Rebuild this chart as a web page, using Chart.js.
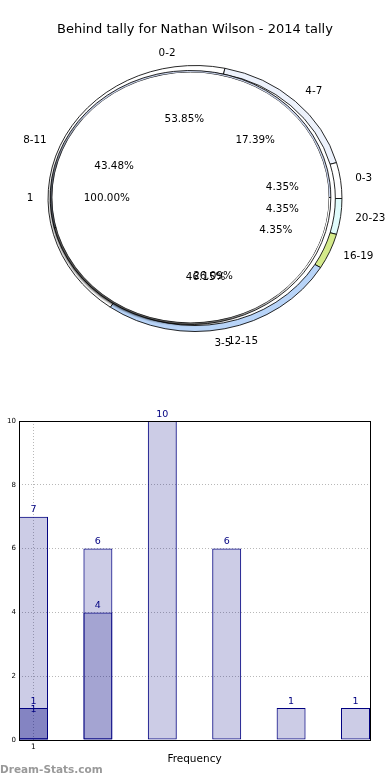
<!DOCTYPE html>
<html>
<head>
<meta charset="utf-8">
<script src="https://cdn.jsdelivr.net/npm/chart.js@4.4.0/dist/chart.umd.min.js"></script>
<style>
  html, body { margin: 0; padding: 0; background: #fff; }
  body { width: 390px; height: 780px; position: relative; overflow: hidden; font-family: "DejaVu Sans", sans-serif; }
  #pieBox { position: absolute; left: 0; top: 0; width: 390px; height: 375px; }
  #barBox { position: absolute; left: 0; top: 390px; width: 390px; height: 390px; }
  #mark { position: absolute; left: 0; top: 763px; font: bold 10.5px "DejaVu Sans", sans-serif; color: #999; }
</style>
</head>
<body>
<div id="pieBox"><canvas id="pieChart"></canvas></div>
<div id="barBox"><canvas id="barChart"></canvas></div>
<div id="mark">Dream-Stats.com</div>
<script>
const hourLabels = ['0-3', '4-7', '8-11', '12-15', '16-19', '20-23'];
const hourValues = [1, 4, 10, 6, 1, 1];
const hourColors = ['#ffffff', '#edf2fc', '#ffffff', '#b8d4f8', '#d4ea8a', '#e0fcfc'];
const halfLabels = ['0-2', '3-5'];
const halfValues = [7, 6];
const halfColors = ['#c9d3ea', '#ffffff'];
const gameLabels = ['1'];
const gameValues = [1];

const barX = [1, 2, 3, 4, 5, 6];
const xTickLabels = ['1'];
const yTicks = [0, 2, 4, 6, 8, 10];

const FONT = '"DejaVu Sans", sans-serif';
const SX = 1.105;   // pie comes out a bit wider than tall
const R = 133;

function rev(a) { return a.slice().reverse(); }

// matplotlib goes counterclockwise from east, Chart.js clockwise -> reverse order
const pieSets = [
  { data: rev(hourValues), names: rev(hourLabels), backgroundColor: rev(hourColors), weight: 6, order: 3, borderWidth: 0.8 },
  { data: rev(halfValues), names: rev(halfLabels), backgroundColor: rev(halfColors), weight: 2, order: 2, borderWidth: 0.8 },
  { data: gameValues, names: gameLabels, backgroundColor: ['#ffffff'], weight: 125, order: 1, borderWidth: 0 }
].map(d => Object.assign(d, { borderColor: '#000', hoverOffset: 0 }));

const pieShape = {
  id: 'pieShape',
  beforeDatasetsDraw(chart) {
    const a = chart.chartArea, ctx = chart.ctx;
    const cx = (a.left + a.right) / 2, cy = (a.top + a.bottom) / 2;
    ctx.save();
    ctx.translate(cx, cy);
    ctx.scale(SX, 1);
    ctx.translate(-cx, -cy);
  },
  afterDatasetsDraw(chart) { chart.ctx.restore(); },
  beforeDatasetDraw(chart, args) {
    if (args.index === 0) return;
    const ctx = chart.ctx;
    ctx.save();
    ctx.translate(-4.5 / SX, -1);
    if (args.index === 2) {
      ctx.shadowColor = 'rgba(0,0,0,0.7)';
      ctx.shadowOffsetX = -2.5;
      ctx.shadowOffsetY = 2.5;
      ctx.shadowBlur = 2;
    }
  },
  afterDatasetDraw(chart, args) { if (args.index !== 0) chart.ctx.restore(); },
  afterDraw(chart) {
    const a = chart.chartArea, ctx = chart.ctx;
    const cx = (a.left + a.right) / 2, cy = (a.top + a.bottom) / 2;
    ctx.save();
    ctx.font = '10.4px ' + FONT;
    ctx.fillStyle = '#000';
    ctx.textBaseline = 'middle';
    chart.data.datasets.forEach((ds, di) => {
      const total = ds.data.reduce((s, v) => s + v, 0);
      chart.getDatasetMeta(di).data.forEach((arc, i) => {
        const mid = (arc.startAngle + arc.endAngle) / 2;
        const c = Math.cos(mid), s = Math.sin(mid);
        ctx.textAlign = c > 0.001 ? 'left' : 'right';
        ctx.fillText(ds.names[i], cx + 1.1 * R * c * SX, cy + 1.1 * R * s);
        ctx.textAlign = 'center';
        ctx.fillText((ds.data[i] / total * 100).toFixed(2) + '%', cx + 0.6 * R * c * SX, cy + 0.6 * R * s);
      });
    });
    ctx.restore();
  }
};

new Chart(document.getElementById('pieChart'), {
  type: 'doughnut',
  data: { datasets: pieSets },
  options: {
    responsive: true,
    maintainAspectRatio: false,
    animation: false,
    rotation: 90,
    cutout: 0,
    radius: R,
    layout: { padding: { top: 0, bottom: 15.6, left: 0, right: 0 } },
    events: [],
    plugins: {
      legend: { display: false },
      tooltip: { enabled: false },
      title: {
        display: true,
        text: 'Behind tally for Nathan Wilson - 2014 tally',
        color: '#000',
        font: { family: FONT, size: 13, weight: 'normal' },
        padding: { top: 22, bottom: 0 }
      }
    }
  },
  plugins: [pieShape]
});

// bar chart: the three groups overlap at the same x positions
function pts(vals) { return vals.map((v, i) => ({ x: barX[i], y: v })); }

const frameAndValues = {
  id: 'frameAndValues',
  afterDraw(chart) {
    const a = chart.chartArea, ctx = chart.ctx;
    ctx.save();
    ctx.strokeStyle = '#000';
    ctx.lineWidth = 1;
    ctx.strokeRect(Math.round(a.left) + 0.5, Math.round(a.top) + 0.5, Math.round(a.right - a.left), Math.round(a.bottom - a.top));
    ctx.font = '9.5px ' + FONT;
    ctx.fillStyle = '#000080';
    ctx.textAlign = 'center';
    ctx.textBaseline = 'bottom';
    chart.data.datasets.forEach((ds, di) => {
      // first group's label sits a little lower, as in the original
      const lift = di === 0 ? -6 : 2;
      chart.getDatasetMeta(di).data.forEach((bar, i) => {
        ctx.fillText(String(ds.data[i].y), bar.x, bar.y - lift);
      });
    });
    ctx.restore();
  }
};

new Chart(document.getElementById('barChart'), {
  type: 'bar',
  data: {
    datasets: [gameValues, halfValues, hourValues].map(vals => ({
      data: pts(vals),
      backgroundColor: 'rgba(0,0,128,0.2)',
      borderColor: '#000080',
      borderWidth: 1,
      borderSkipped: false,
      grouped: false,
      barPercentage: 0.45,
      categoryPercentage: 1
    }))
  },
  options: {
    responsive: true,
    maintainAspectRatio: false,
    animation: false,
    events: [],
    layout: { padding: { top: 31, right: 20, left: 0, bottom: 0 } },
    plugins: { legend: { display: false }, tooltip: { enabled: false } },
    scales: {
      x: {
        type: 'linear',
        offset: false,
        min: 0.775,
        max: 6.225,
        afterBuildTicks: s => { s.ticks = xTickLabels.map((t, i) => ({ value: barX[i] })); },
        ticks: {
          callback: (v, i) => xTickLabels[i],
          font: { family: FONT, size: 7.5 },
          color: '#000',
          padding: 3,
          maxRotation: 0,
          autoSkip: false
        },
        grid: { color: '#b8b8b8', lineWidth: 1, drawTicks: false, offset: false },
        border: { display: false, dash: [1, 2] },
        title: {
          display: true,
          text: 'Frequency',
          color: '#000',
          font: { family: FONT, size: 10.5 },
          padding: { top: 0, bottom: 14 }
        },
        afterFit: s => { s.height = 40; }
      },
      y: {
        min: 0,
        max: 10,
        afterBuildTicks: s => { s.ticks = yTicks.map(v => ({ value: v })); },
        ticks: { font: { family: FONT, size: 7 }, color: '#000', padding: 3 },
        grid: { color: '#b8b8b8', lineWidth: 1, drawTicks: false },
        border: { display: false, dash: [1, 2] },
        afterFit: s => { s.width = 19; }
      }
    }
  },
  plugins: [frameAndValues]
});
</script>
</body>
</html>
